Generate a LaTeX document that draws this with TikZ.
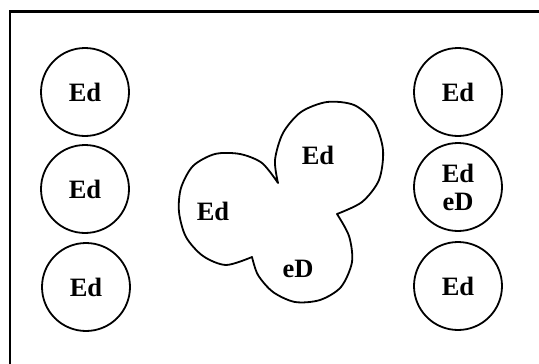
\documentclass[tikz,border=0pt]{standalone}
\usepackage{fontspec}
\setmainfont{Liberation Serif}
\usepackage{tikz}

\tikzset{
  ball/.style={circle, draw, line width=1.8pt, minimum size=88pt, inner sep=0pt,
    font=\bfseries\fontsize{26.5}{28}\selectfont, align=center},
  tag/.style={font=\bfseries\fontsize{26.5}{28}\selectfont}
}

\begin{document}
\begin{tikzpicture}[x=1pt, y=-1pt]
        \useasboundingbox (0,0) rectangle (539,364);
        % Frame
        \draw[line width=2.6pt] (10,364) -- (10,11.5) -- (539,11.5);

        % Left column
        \node[ball] (L1) at (85,92) {Ed};
        \node[ball] (L2) at (85,189) {Ed};
        \node[ball] (L3) at (86,287) {Ed};

        % Right column
        \node[ball] (R1) at (458,92) {Ed};
        \node[ball] (R2) at (458,187) {Ed\\eD};
        \node[ball] (R3) at (458,286) {Ed};

        % Merged blob
        \draw[line width=1.8pt, line join=round]
          plot[smooth] coordinates {(278,183) (262,163) (240,154) (215,154) (193,166)
            (181,188) (179,212) (186,237) (203,256) (226,265) (252,257)}
          -- plot[smooth] coordinates {(252,257) (258,275) (273,292) (295,302)
            (320,300) (341,287) (352,262) (349,236) (337,214)}
          -- plot[smooth] coordinates {(337,214) (362,202) (379,180) (383,150) (374,122)
            (354,105) (327,102) (301,112) (283,133) (275,160) (278,183)}
          -- cycle;
        \node[tag] (B1) at (213,211) {Ed};
        \node[tag] (B2) at (318,155) {Ed};
        \node[tag] (B3) at (298,269) {eD};
    \end{tikzpicture}
\end{document}
